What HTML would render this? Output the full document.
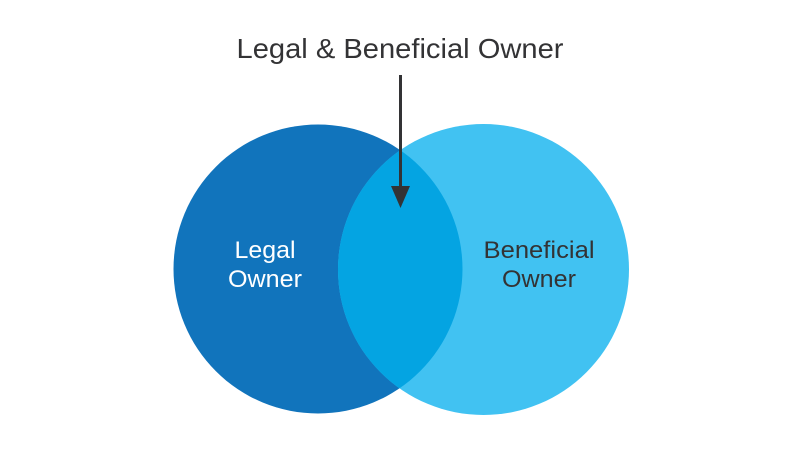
<!DOCTYPE html>
<html><head><meta charset="utf-8"><style>html,body{margin:0;padding:0;background:#fff}svg{display:block}</style></head>
<body>
<svg width="800" height="451" viewBox="0 0 800 451" xmlns="http://www.w3.org/2000/svg">
<defs><clipPath id="c"><circle cx="318" cy="269" r="144.5"/></clipPath></defs>
<circle cx="318" cy="269" r="144.5" fill="#1174BC"/>
<circle cx="483.5" cy="269.5" r="145.5" fill="#41C2F2"/>
<circle cx="483.5" cy="269.5" r="145.5" fill="#04A4E2" clip-path="url(#c)"/>
<line x1="400.5" y1="75" x2="400.5" y2="190" stroke="#333335" stroke-width="3"/>
<polygon points="391,186 410,186 400.5,208" fill="#333335"/>
<g font-family="Liberation Sans, sans-serif" font-size="24" text-anchor="middle">
<text x="400" y="58" font-size="28" fill="#333335" textLength="327" lengthAdjust="spacingAndGlyphs">Legal &amp; Beneficial Owner</text>
<text x="265" y="258" fill="#fff" textLength="61" lengthAdjust="spacingAndGlyphs">Legal</text>
<text x="265" y="287" fill="#fff" textLength="74" lengthAdjust="spacingAndGlyphs">Owner</text>
<text x="539" y="258" fill="#333335" textLength="111" lengthAdjust="spacingAndGlyphs">Beneficial</text>
<text x="539" y="287" fill="#333335" textLength="74" lengthAdjust="spacingAndGlyphs">Owner</text>
</g>
</svg>
</body></html>
